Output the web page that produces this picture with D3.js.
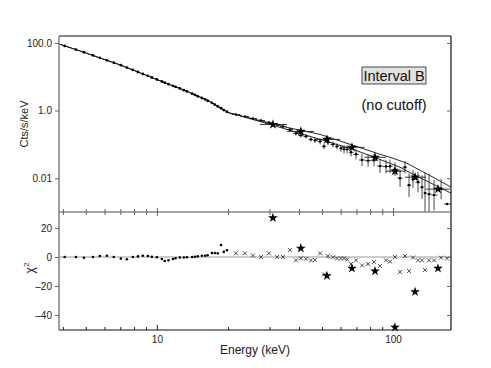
<!DOCTYPE html>
<html>
<head>
<meta charset="utf-8">
<script src="https://cdn.jsdelivr.net/npm/d3@7"></script>
<style>
  body { margin: 0; background: #fff; }
  svg { font-family: "Liberation Sans", Arial, sans-serif; }
</style>
</head>
<body>
<svg id="chart" width="491" height="368"></svg>
<script>
// low energy spectrum (dense points below 20 keV)
const lowE = [4.07, 4.54, 4.91, 5.36, 5.73, 6.14, 6.57, 7.04, 7.46, 7.91, 8.31, 8.72, 9.16, 9.52, 10.0,
  10.5, 10.8, 11.2, 11.7, 12.0, 12.5, 13.0, 13.4, 14.1, 14.5, 14.9, 15.5, 16.0, 16.4, 17.1, 17.6, 18.1, 18.7, 19.2, 19.8];
const lowFlux = [81.6, 63.6, 53, 42.9, 36.2, 30.6, 26.0, 21.9, 18.7, 15.9, 13.8, 12.1, 10.6, 9.47, 8.27,
  7.23, 6.66, 5.98, 5.39, 5.01, 4.5, 4.01, 3.67, 3.16, 2.90, 2.63, 2.35, 2.13, 1.95, 1.69, 1.50, 1.32, 1.17, 1.03, 0.92];
const lowChi = [0, 0, -0.5, 0, 0.7, 0.9, 0, -1.1, -1.6, 0, 0.4, 0.9, 0.7, 0.1, -0.2,
  -1.4, -2.8, -2.3, -1.4, -0.9, -0.3, -0.3, -0.2, 0, 0.2, 0.5, 0.9, 0.9, 1.2, 2.7, 2.7, 2.5, 8.3, 3.5, 4.6];

// high energy spectrum (crosses)
const highE = [21.6, 23.6, 25.5, 27.6, 29.8, 32.3, 34.2, 36.6, 38.8, 40.7, 42.8, 44.9, 46.7, 49.1, 51.0,
  53.0, 55.7, 57.9, 60.2, 62.0, 63.9, 66.4, 69.7, 73.9, 78.4, 83.1, 88.1, 93.4, 97.1, 102.0,
  107.1, 112.4, 116.9, 121.5, 127.6, 132.7, 136.6, 142.1, 149.2, 159.8, 169.4];
const highFlux = [0.763, 0.666, 0.582, 0.508, 0.444, 0.387, 0.338, 0.276, 0.211, 0.184, 0.172, 0.140, 0.131, 0.1225, 0.0874,
  0.1145, 0.1, 0.0874, 0.0763, 0.0713, 0.0713, 0.0582, 0.0508, 0.0345, 0.0330, 0.0340, 0.0228, 0.0222, 0.0225, 0.0184,
  0.01, 0.0211, 0.00622, 0.00935, 0.00763, 0.00543, 0.00362, 0.00338, 0.00316, 0.00475, 0.00172];
const highErrDex = [0.03, 0.03, 0.03, 0.03, 0.03, 0.03, 0.045, 0.06, 0.06, 0.06, 0.06, 0.06, 0.075, 0.09, 0.09,
  0.09, 0.09, 0.09, 0.1, 0.12, 0.12, 0.12, 0.15, 0.18, 0.18, 0.18, 0.2, 0.2, 0.2, 0.2,
  0.26, 0.18, 0.35, 0.26, 0.3, 0.35, 0.6, 0.6, 0.45, 0.3, 0];
const highChi = [2.5, 2.5, 1, 0, 2.5, 0, 0, 4.8, -2.3, -0.9, -1.2, -2.3, -2.1, 2.5, -12,
  0.6, -0.2, -1, -1, -1, -1.7, -4.8, -2.3, -5.8, -4.8, -3.4, -6.2, -2.3, -3.2, 0,
  -10.3, 0.7, -9.7, -0.4, -2.3, -2.3, -9.0, -2.3, -2.3, -0.5, -1];

// second instrument (stars)
const starE = [31.0, 40.7, 52.5, 67.0, 83.9, 101.9, 124, 155];
const starELo = [27.3, 35.6, 46.3, 59.8, 75.7, 93.4, 112.4, 138];
const starEHi = [35.6, 46.3, 59.8, 75.7, 93.4, 112.4, 138, 174];
const starFlux = [0.387, 0.241, 0.140, 0.0817, 0.0415, 0.0161, 0.0107, 0.00474];
const starChi = [27, 6, -13, -7.8, -9.7, -48.5, -24, -7.8];

// model curves
const modelAE = [3.85, 4.72, 5.73, 6.97, 8.47, 11.35, 12.9, 16.8, 20, 27.3, 35.6, 49.1, 67.8, 85.6, 100, 114.6, 130, 147.7, 176];
const modelAF = [93, 58, 36, 22.5, 13.1, 5.8, 4.15, 1.84, 0.873, 0.508, 0.316, 0.197, 0.0935, 0.0544, 0.0387, 0.0276, 0.0172, 0.0107, 0.00543];
const modelBE = [3.85, 4.72, 5.73, 6.97, 8.47, 11.35, 12.9, 16.8, 20, 27.3, 35.6, 49.1, 67.8, 85.6, 107, 126, 147.7, 176];
const modelBF = [93, 58, 36, 22.5, 13.1, 5.8, 4.15, 1.84, 0.873, 0.475, 0.276, 0.140, 0.0713, 0.0387, 0.0211, 0.0115, 0.00667, 0.00362];

// tick labels
const fluxTicks = [100, 1, 0.01];
const fluxTickLabels = ["100.0", "1.0", "0.01"];
const chiTicks = [20, 0, -20, -40];
const chiTickLabels = ["20", "0", "\u201320", "\u201340"];
const energyMajor = [10, 100];
const energyMinor = [4, 5, 6, 7, 8, 9, 20, 30, 40, 50, 60, 70, 80, 90];

const svg = d3.select("#chart");
const mLeft = 59, mRight = 451, mTop = 36, mMid = 212, mBottom = 330;

const x = d3.scaleLog().domain([3.85, 176]).range([mLeft, mRight]);
const y = d3.scaleLog().domain([0.001, 160]).range([mMid, mTop]);
const yc = d3.scaleLinear().domain([-50.3, 31]).range([mBottom, mMid]);

svg.append("defs").append("clipPath").attr("id", "clipTop")
  .append("rect").attr("x", mLeft).attr("y", mTop).attr("width", mRight - mLeft).attr("height", mMid - mTop);

const upper = svg.append("g").attr("clip-path", "url(#clipTop)");

// models
const lineA = d3.line().x((d, i) => x(modelAE[i])).y(d => y(d));
const lineB = d3.line().x((d, i) => x(modelBE[i])).y(d => y(d));
upper.append("path").datum(modelAF).attr("fill", "none").attr("stroke", "#111").attr("stroke-width", 0.9).attr("d", lineA);
upper.append("path").datum(modelBF).attr("fill", "none").attr("stroke", "#111").attr("stroke-width", 0.9).attr("d", lineB);

// low energy points
upper.selectAll(".low").data(lowE).join("circle")
  .attr("cx", d => x(d)).attr("cy", (d, i) => y(lowFlux[i])).attr("r", 1.4).attr("fill", "#000");

// high energy crosses
const edge = (i) => {
  const lo = i > 0 ? Math.sqrt(highE[i - 1] * highE[i]) : highE[i] * 0.96;
  const hi = i < highE.length - 1 ? Math.sqrt(highE[i] * highE[i + 1]) : highE[i] * 1.04;
  return [lo, hi];
};
highE.forEach((e, i) => {
  const [lo, hi] = edge(i);
  const f = highFlux[i];
  const g = upper.append("g");
  g.append("line").attr("x1", x(lo)).attr("x2", x(hi)).attr("y1", y(f)).attr("y2", y(f))
    .attr("stroke", "#222").attr("stroke-width", 0.9);
  if (highErrDex[i] > 0) {
    g.append("line").attr("x1", x(e)).attr("x2", x(e))
      .attr("y1", y(f * Math.pow(10, highErrDex[i]))).attr("y2", y(f / Math.pow(10, highErrDex[i])))
      .attr("stroke", "#333").attr("stroke-width", 0.9);
  }
  g.append("circle").attr("cx", x(e)).attr("cy", y(f)).attr("r", 1.2).attr("fill", "#000");
});

// stars
const star = d3.symbol().type(d3.symbolStar).size(30);
starE.forEach((e, i) => {
  upper.append("line").attr("x1", x(starELo[i])).attr("x2", x(starEHi[i]))
    .attr("y1", y(starFlux[i])).attr("y2", y(starFlux[i]))
    .attr("stroke", "#222").attr("stroke-width", 0.9);
  upper.append("path").attr("d", star).attr("transform", `translate(${x(e)},${y(starFlux[i])})`).attr("fill", "#000");
});

// residual panel
svg.append("line").attr("x1", mLeft).attr("x2", mRight).attr("y1", yc(0)).attr("y2", yc(0))
  .attr("stroke", "#999").attr("stroke-width", 1.2);

svg.selectAll(".lowChi").data(lowChi).join("circle")
  .attr("cx", (d, i) => x(lowE[i])).attr("cy", d => yc(d)).attr("r", 1.3).attr("fill", "#000");

highChi.forEach((c, i) => {
  const cx = x(highE[i]), cy = yc(c), s = 2;
  svg.append("path").attr("d", `M${cx - s},${cy - s}L${cx + s},${cy + s}M${cx - s},${cy + s}L${cx + s},${cy - s}`)
    .attr("stroke", "#222").attr("stroke-width", 0.8);
});

starChi.forEach((c, i) => {
  svg.append("path").attr("d", star).attr("transform", `translate(${x(starE[i])},${yc(c)})`).attr("fill", "#000");
});

// frames
const frame = svg.append("g").attr("fill", "none");
frame.append("line").attr("x1", mLeft).attr("x2", mRight).attr("y1", mTop).attr("y2", mTop).attr("stroke", "#111").attr("stroke-width", 1.2);
frame.append("line").attr("x1", mRight).attr("x2", mRight).attr("y1", mTop).attr("y2", mBottom).attr("stroke", "#111").attr("stroke-width", 1.2);
frame.append("line").attr("x1", mLeft).attr("x2", mRight).attr("y1", mBottom).attr("y2", mBottom).attr("stroke", "#111").attr("stroke-width", 1.2);
frame.append("line").attr("x1", mLeft).attr("x2", mLeft).attr("y1", mTop).attr("y2", mBottom).attr("stroke", "#888").attr("stroke-width", 1.6);
frame.append("line").attr("x1", mLeft).attr("x2", mRight).attr("y1", mMid).attr("y2", mMid).attr("stroke", "#888").attr("stroke-width", 1.6);

// left axes
const tickFont = 10;
svg.append("g").attr("transform", `translate(${mLeft},0)`)
  .call(d3.axisLeft(y).tickValues(fluxTicks).tickSize(4).tickPadding(3).tickFormat((d, i) => fluxTickLabels[i]))
  .call(g => g.select(".domain").remove())
  .call(g => g.selectAll("text").style("font-size", tickFont + "px").attr("fill", "#222"))
  .call(g => g.selectAll("line").attr("stroke", "#666"))
  .attr("font-family", null);
svg.append("g").attr("transform", `translate(${mLeft},0)`)
  .call(d3.axisLeft(yc).tickValues(chiTicks).tickSize(4).tickPadding(3).tickFormat((d, i) => chiTickLabels[i]))
  .call(g => g.select(".domain").remove())
  .call(g => g.selectAll("text").style("font-size", tickFont + "px").attr("fill", "#222"))
  .call(g => g.selectAll("line").attr("stroke", "#666"))
  .attr("font-family", null);

// right inner ticks
svg.append("g").attr("transform", `translate(${mRight},0)`)
  .call(d3.axisLeft(y).tickValues(fluxTicks).tickSize(4).tickFormat(""))
  .call(g => g.select(".domain").remove())
  .call(g => g.selectAll("line").attr("stroke", "#666"));
svg.append("g").attr("transform", `translate(${mRight},0)`)
  .call(d3.axisLeft(yc).tickValues(chiTicks).tickSize(4).tickFormat(""))
  .call(g => g.select(".domain").remove())
  .call(g => g.selectAll("line").attr("stroke", "#666"));

// bottom axis
svg.append("g").attr("transform", `translate(0,${mBottom})`)
  .call(d3.axisTop(x).tickValues(energyMajor).tickSize(5).tickFormat(""))
  .call(g => g.select(".domain").remove())
  .call(g => g.selectAll("line").attr("stroke", "#222"));
svg.append("g").attr("transform", `translate(0,${mBottom})`)
  .call(d3.axisTop(x).tickValues(energyMinor).tickSize(3).tickFormat(""))
  .call(g => g.select(".domain").remove())
  .call(g => g.selectAll("line").attr("stroke", "#222"));
svg.append("g").attr("transform", `translate(0,${mBottom})`)
  .call(d3.axisBottom(x).tickValues(energyMajor).tickSize(0).tickPadding(6).tickFormat(d3.format("d")))
  .call(g => g.select(".domain").remove())
  .call(g => g.selectAll("text").style("font-size", tickFont + "px").attr("fill", "#222"))
  .attr("font-family", null);

// ticks on panel boundary
[d3.axisTop(x), d3.axisBottom(x)].forEach(ax => {
  svg.append("g").attr("transform", `translate(0,${mMid})`)
    .call(ax.tickValues(energyMinor).tickSize(3).tickFormat(""))
    .call(g => g.select(".domain").remove())
    .call(g => g.selectAll("line").attr("stroke", "#666"));
  svg.append("g").attr("transform", `translate(0,${mMid})`)
    .call(ax.tickValues(energyMajor).tickSize(4).tickFormat(""))
    .call(g => g.select(".domain").remove())
    .call(g => g.selectAll("line").attr("stroke", "#666"));
});

// axis titles
svg.append("text").attr("transform", `translate(28,124) rotate(-90)`)
  .attr("text-anchor", "middle").style("font-size", "11px").attr("fill", "#222").text("Cts/s/keV");
const chiLabel = svg.append("text").attr("transform", `translate(34,268) rotate(-90)`)
  .attr("text-anchor", "middle").style("font-size", "12px").attr("fill", "#222");
chiLabel.append("tspan").text("\u03c7");
chiLabel.append("tspan").attr("dy", -5).style("font-size", "8px").text("2");
svg.append("text").attr("x", 255).attr("y", 354).attr("text-anchor", "middle")
  .style("font-size", "12px").attr("fill", "#222").text("Energy (keV)");

// annotation
svg.append("rect").attr("x", 362).attr("y", 67).attr("width", 64).attr("height", 17)
  .attr("fill", "#e2e2e2").attr("stroke", "#222").attr("stroke-width", 0.8);
svg.append("text").attr("x", 394).attr("y", 80.5).attr("text-anchor", "middle")
  .style("font-size", "14.5px").attr("fill", "#111").text("Interval B");
svg.append("text").attr("x", 394).attr("y", 110).attr("text-anchor", "middle")
  .style("font-size", "14.5px").attr("fill", "#111").text("(no cutoff)");
</script>
</body>
</html>
